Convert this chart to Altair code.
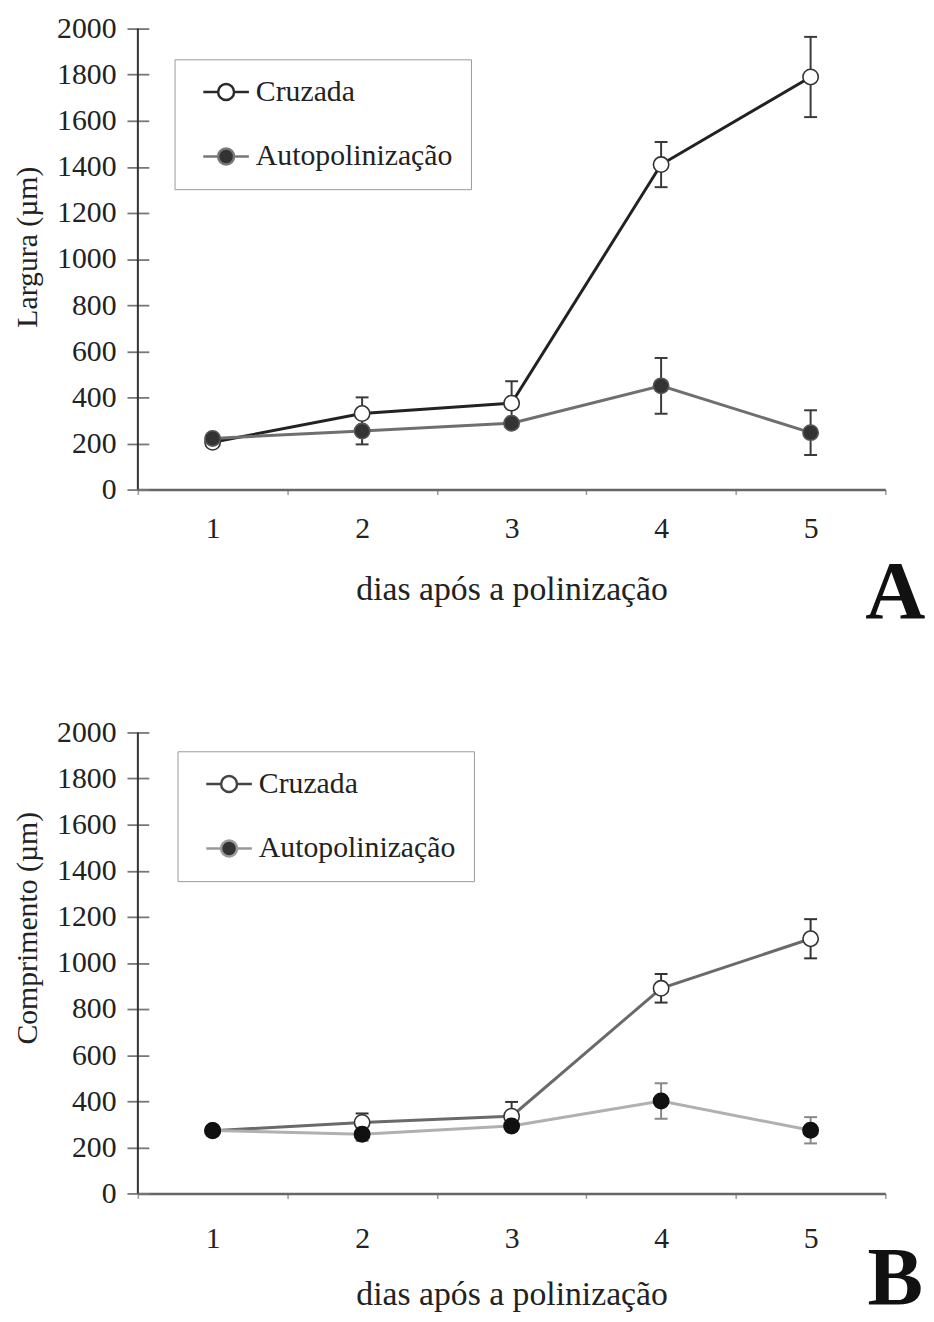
import altair as alt
import pandas as pd

# ---------------- data ----------------
days = [1, 2, 3, 4, 5]
series_names = ["Cruzada", "Autopolinização"]

# Panel A – Largura (µm)
larg_cruzada = [205, 330, 375, 1410, 1790]
larg_cruzada_err = [10, 70, 95, 98, 174]
larg_auto = [222, 254, 288, 450, 247]
larg_auto_err = [10, 58, 15, 121, 97]

# Panel B – Comprimento (µm)
comp_cruzada = [272, 308, 335, 890, 1105]
comp_cruzada_err = [10, 39, 62, 62, 85]
comp_auto = [273, 257, 293, 401, 274]
comp_auto_err = [10, 29, 15, 77, 57]

y_ticks = [0, 200, 400, 600, 800, 1000, 1200, 1400, 1600, 1800, 2000]

FONT = "Liberation Serif"
W, H = 754, 465
LEGEND_PATH = ("M-2,0L-0.7,0M2,0L0.7,0M0.7,0"
               "A0.7,0.7,0,1,1,-0.7,0A0.7,0.7,0,1,1,0.7,0Z")


def make_df(cruz, cruz_err, auto, auto_err):
    rows = []
    for name, vals, errs in [(series_names[0], cruz, cruz_err),
                             (series_names[1], auto, auto_err)]:
        for d, v, e in zip(days, vals, errs):
            rows.append({"dia": d, "serie": name, "valor": v,
                         "lo": v - e, "hi": v + e})
    return pd.DataFrame(rows)


def panel(df, ytitle, letter, st):
    xscale = alt.Scale(type="band", paddingInner=0, paddingOuter=0)
    xaxis = alt.Axis(title="dias após a polinização", labelAngle=0,
                     tickBand="extent", tickSize=5, tickColor="#999",
                     tickWidth=1.5, domainColor="#666", domainWidth=2.5,
                     labelFont=FONT, labelFontSize=30, labelColor="#222",
                     labelPadding=st["xlabpad"], titleFont=FONT,
                     titleFontSize=34, titleFontWeight="normal",
                     titleColor="#222", titlePadding=st["xtitlepad"],
                     grid=False)
    yscale = alt.Scale(domain=[0, 2000], nice=False)
    yaxis = alt.Axis(values=y_ticks, format="d", title=ytitle, offset=-11,
                     tickSize=22, domain=False, grid=False, tickColor="#777",
                     tickWidth=1.8, labelPadding=11, labelFont=FONT,
                     labelFontSize=30, labelColor="#222", titleFont=FONT,
                     titleFontSize=30, titleFontWeight="normal",
                     titleColor="#222", titlePadding=14, titleY=st["titley"])

    X = alt.X("dia:O", scale=xscale, axis=xaxis)

    def Y(field):
        return alt.Y(field, type="quantitative", scale=yscale, axis=yaxis)

    base = alt.Chart(df)
    layers = []
    # y-axis line
    layers.append(
        alt.Chart(pd.DataFrame({"k": [0]})).mark_rule(color="#333", strokeWidth=2)
        .encode(x=alt.value(0), y=alt.value(0), y2=alt.value(H))
    )
    # error bars
    for i, name in enumerate(series_names):
        sub = base.transform_filter(alt.datum.serie == name)
        ec = st["err"][i]
        layers.append(sub.mark_rule(color=ec, strokeWidth=2)
                      .encode(x=X, y=Y("lo"), y2=alt.Y2("hi")))
        layers.append(sub.mark_tick(color=ec, thickness=2, size=13, opacity=1)
                      .encode(x=X, y=Y("lo")))
        layers.append(sub.mark_tick(color=ec, thickness=2, size=13, opacity=1)
                      .encode(x=X, y=Y("hi")))
    # lines
    for i, name in enumerate(series_names):
        sub = base.transform_filter(alt.datum.serie == name)
        layers.append(sub.mark_line(color=st["line"][i], strokeWidth=3)
                      .encode(x=X, y=Y("valor")))
    # markers
    for i, name in enumerate(series_names):
        sub = base.transform_filter(alt.datum.serie == name)
        layers.append(sub.mark_point(filled=True, shape="circle", size=240,
                                     fill=st["mfill"][i],
                                     stroke=st["mstroke"][i],
                                     strokeWidth=1.6, opacity=1)
                      .encode(x=X, y=Y("valor")))
    # legend (scale-driven, no marks drawn)
    leg = alt.Legend(title=None, orient="none", legendX=st["legx"],
                     legendY=st["legy"], symbolType=LEGEND_PATH,
                     symbolSize=529, symbolStrokeWidth=2.5, symbolOffset=19,
                     symbolOpacity=1,
                     labelOffset=15, labelFont=FONT, labelFontSize=30,
                     labelColor="#222", padding=18, rowPadding=35,
                     strokeColor="#999", fillColor="white", labelLimit=0)
    layers.append(
        base.transform_filter("false")
        .mark_point(filled=True, shape="circle", opacity=1)
        .encode(
            x=X, y=Y("valor"),
            fill=alt.Fill("serie:N", scale=alt.Scale(domain=series_names,
                                                     range=st["legfill"]),
                          legend=leg),
            stroke=alt.Stroke("serie:N", scale=alt.Scale(domain=series_names,
                                                         range=st["legstroke"]),
                              legend=leg),
        )
    )
    # panel letter
    layers.append(
        alt.Chart(pd.DataFrame({"t": [letter]}))
        .mark_text(font=FONT, fontSize=84, fontWeight="bold", align="center",
                   baseline="alphabetic", color="#111")
        .encode(text="t:N", x=alt.value(W + 10), y=alt.value(st["lety"]))
    )
    return alt.layer(*layers).properties(width=W, height=H)


style_a = dict(line=["#222222", "#6f6f6f"], mfill=["white", "#333333"],
               mstroke=["#333333", "#555555"], err=["#3a3a3a", "#3a3a3a"],
               legfill=["white", "#333333"], legstroke=["#2a2a2a", "#777777"],
               legx=37, legy=31, titley=220, lety=595,
               xlabpad=19, xtitlepad=30)
style_b = dict(line=["#6a6a6a", "#b0b0b0"], mfill=["white", "#111111"],
               mstroke=["#333333", "#111111"], err=["#333333", "#888888"],
               legfill=["white", "#333333"], legstroke=["#444444", "#999999"],
               legx=40, legy=19, titley=197, lety=577,
               xlabpad=26, xtitlepad=24)

chart_a = panel(make_df(larg_cruzada, larg_cruzada_err, larg_auto, larg_auto_err),
                "Largura (µm)", "A", style_a)
chart_b = panel(make_df(comp_cruzada, comp_cruzada_err, comp_auto, comp_auto_err),
                "Comprimento (µm)", "B", style_b)

chart = (
    alt.vconcat(chart_a, chart_b, spacing=83)
    .resolve_scale(fill="independent", stroke="independent")
    .properties(padding={"left": 5, "top": 0, "right": 0, "bottom": 5},
                background="white")
    .configure(
        font=FONT,
        style={"guide-label": {"font": FONT}, "guide-title": {"font": FONT}},
    )
    .configure_view(stroke=None)
    .configure_axis(labelFont=FONT, titleFont=FONT, labelFontSize=30)
    .configure_legend(labelFont=FONT)
    .configure_text(font=FONT)
)

chart.save("out.html", embed_options={"renderer": "svg", "actions": False})
